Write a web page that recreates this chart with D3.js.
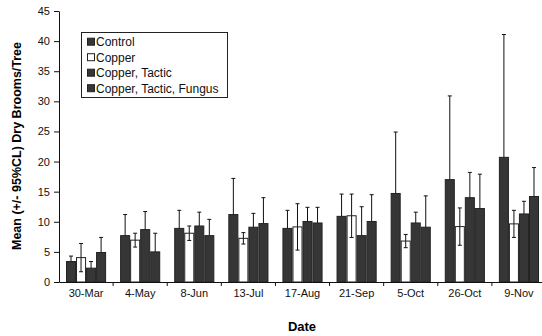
<!DOCTYPE html>
<html><head><meta charset="utf-8">
<script src="https://cdn.jsdelivr.net/npm/d3@7"></script>
<style>body{margin:0;background:#fff}svg{display:block}text{font-family:Arial,"Liberation Sans",sans-serif}</style>
</head><body><svg id="c" width="542" height="336"></svg>
<script>
const categories = ["30-Mar","4-May","8-Jun","13-Jul","17-Aug","21-Sep","5-Oct","26-Oct","9-Nov"];
const seriesNames = ["Control","Copper","Copper, Tactic","Copper, Tactic, Fungus"];
const controlMean = [3.4, 7.7, 8.9, 11.2, 8.9, 10.9, 14.7, 17.0, 20.7];
const controlCI   = [0.9, 3.5, 3.0, 6.0, 3.0, 3.7, 10.2, 13.9, 20.4];
const copperMean  = [4.05, 6.95, 8.1, 7.25, 9.15, 11.0, 6.8, 9.2, 9.65];
const copperCI    = [2.35, 1.15, 1.2, 0.95, 3.85, 3.6, 1.1, 3.1, 2.25];
const tacticMean  = [2.3, 8.7, 9.3, 9.1, 10.05, 7.7, 9.8, 14.0, 11.3];
const tacticCI    = [1.1, 3.0, 2.3, 2.3, 2.35, 4.8, 1.8, 4.2, 2.1];
const fungusMean  = [4.9, 5.0, 7.7, 9.7, 9.8, 10.05, 9.1, 12.2, 14.2];
const fungusCI    = [2.5, 3.1, 2.7, 4.3, 2.6, 4.45, 5.2, 5.7, 4.8];
const yTicks = [0,5,10,15,20,25,30,35,40,45];

const means = [controlMean, copperMean, tacticMean, fungusMean];
const cis = [controlCI, copperCI, tacticCI, fungusCI];
const fills = ["#363636","#ffffff","#363636","#363636"];

const svg = d3.select("#c");
const x0 = d3.scaleBand().domain(categories).range([59, 546]).paddingInner(0).paddingOuter(0);
const x1 = d3.scaleBand().domain(seriesNames).range([7, x0.bandwidth()-7]).padding(0);
const y = d3.scaleLinear().domain([0,45]).range([282, 11]);

const data = [];
categories.forEach((c,i)=>seriesNames.forEach((s,j)=>data.push({c,s,j,v:means[j][i],e:cis[j][i]})));

// error bars first
const eb = svg.append("g").attr("stroke","#111").attr("stroke-width",1);
data.forEach(d=>{
  const cx = x0(d.c)+x1(d.s)+x1.bandwidth()/2;
  const lo = Math.max(0,d.v-d.e), hi = d.v+d.e;
  eb.append("line").attr("x1",cx).attr("x2",cx).attr("y1",y(lo)).attr("y2",y(hi));
  eb.append("line").attr("x1",cx-2).attr("x2",cx+2).attr("y1",y(hi)).attr("y2",y(hi));
  eb.append("line").attr("x1",cx-2).attr("x2",cx+2).attr("y1",y(lo)).attr("y2",y(lo));
});
// bars
svg.append("g").selectAll("rect").data(data).join("rect")
  .attr("x",d=>x0(d.c)+x1(d.s)+0.5)
  .attr("width",x1.bandwidth()-1)
  .attr("y",d=>y(d.v))
  .attr("height",d=>y(0)-y(d.v))
  .attr("fill",d=>d.j===1?"none":fills[d.j])
  .attr("stroke","#222").attr("stroke-width",1);

// axes
const ya = svg.append("g").attr("transform","translate(59,0)")
  .call(d3.axisLeft(y).tickValues(yTicks).tickSize(5).tickSizeOuter(0));
ya.selectAll("text").attr("font-size",11).attr("fill","#111").attr("dx",-1);
ya.selectAll("line,path").attr("stroke","#111");

const xa = svg.append("g").attr("transform","translate(0,282)")
  .call(d3.axisBottom(x0).tickSize(0).tickSizeOuter(0));
xa.selectAll("text").attr("font-size",11).attr("fill","#111").attr("dy","1.05em");
xa.select("path").attr("stroke","#111");
// separator ticks between groups
svg.append("g").selectAll("line").data(categories.slice(1)).join("line")
  .attr("x1",d=>x0(d)).attr("x2",d=>x0(d)).attr("y1",282).attr("y2",286).attr("stroke","#111");

svg.append("text").attr("x",302).attr("y",331).attr("text-anchor","middle")
  .attr("font-weight","bold").attr("font-size",13).text("Date");
svg.append("text").attr("transform","translate(21,146) rotate(-90)").attr("text-anchor","middle")
  .attr("font-weight","bold").attr("font-size",12.5).text("Mean (+/- 95%CL) Dry Brooms/Tree");

// legend
const lg = svg.append("g");
lg.append("rect").attr("x",81.5).attr("y",32.5).attr("width",146).attr("height",65)
  .attr("fill","#fff").attr("stroke","#222");
seriesNames.forEach((s,j)=>{
  const cy = 41.7 + j*15.5;
  lg.append("rect").attr("x",87.5).attr("y",cy-3.5).attr("width",7).attr("height",7)
    .attr("fill",fills[j]).attr("stroke","#222");
  lg.append("text").attr("x",96).attr("y",cy+4.3).attr("font-size",12).attr("fill","#111").text(s);
});
</script></body></html>
